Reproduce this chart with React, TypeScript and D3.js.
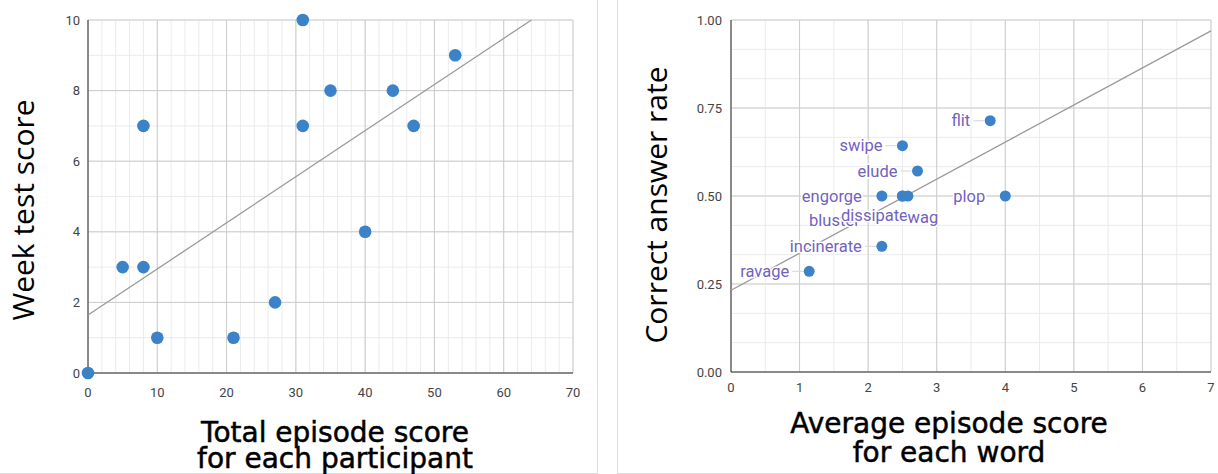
import React from "react";
import * as d3 from "d3";

// ---------- Data: left chart ----------
const episodeTotals = [0, 5, 8, 8, 10, 21, 27, 31, 31, 35, 40, 44, 47, 53];
const weekScores = [0, 3, 3, 7, 1, 1, 2, 10, 7, 8, 4, 8, 7, 9];
const leftXTicks = [0, 10, 20, 30, 40, 50, 60, 70];
const leftYTicks = [0, 2, 4, 6, 8, 10];

// ---------- Data: right chart ----------
const words = ["flit", "swipe", "elude", "engorge", "bluster", "dissipate", "wag", "plop", "incinerate", "ravage"];
const avgEpisode = [3.78, 2.5, 2.72, 2.2, 2.5, 2.5, 2.58, 4.0, 2.2, 1.14];
const correctRate = [0.714, 0.643, 0.571, 0.5, 0.5, 0.5, 0.5, 0.5, 0.357, 0.286];
const rightXTicks = [0, 1, 2, 3, 4, 5, 6, 7];
const rightYTicks = [0, 0.25, 0.5, 0.75, 1.0];

// label placement (style): default = left of point with leader; listed ones are offset
const labelPlacement: Record<string, { dx: number; dy: number }> = {
  bluster: { dx: -68, dy: 24 },
  dissipate: { dx: -28, dy: 19 },
  wag: { dx: 15, dy: 21 },
};

function regress(xs: number[], ys: number[]) {
  const mx = d3.mean(xs)!;
  const my = d3.mean(ys)!;
  let sxy = 0, sxx = 0;
  xs.forEach((x, i) => {
    sxy += (x - mx) * (ys[i] - my);
    sxx += (x - mx) * (x - mx);
  });
  const slope = sxy / sxx;
  return { slope, intercept: my - slope * mx };
}

const POINT = "#3b82c9";
const LABEL = "#7262bd";
const MAJOR = "#cccccc";
const MINOR = "#ebebeb";
const AXIS = "#333333";
const TICK = "#444444";
const TREND = "#9a9a9a";
const XTITLE_FONT = "'DejaVu Sans', sans-serif";
const YTITLE_FONT = "'Open Sans', sans-serif";
const TICK_FONT = "Roboto, sans-serif";

function XTitle({ x, y, text }: { x: number; y: number; text: string }) {
  return (
    <text x={x} y={y} textAnchor="middle" fontFamily={XTITLE_FONT} fontSize={28} fill="#000" stroke="#000" strokeWidth={0.5}>
      {text}
    </text>
  );
}

function LeftChart() {
  const x = d3.scaleLinear().domain([0, 70]).range([88, 573]);
  const y = d3.scaleLinear().domain([0, 10]).range([373, 20]);
  const minorX = d3.range(0, 70.001, 2);
  const minorY = d3.range(0, 10.001, 1);
  const { slope, intercept } = regress(episodeTotals, weekScores);
  const xEnd = Math.min(70, (10 - intercept) / slope);
  const line = d3.line<number>().x((d) => x(d)).y((d) => y(intercept + slope * d));
  return (
    <g>
      {minorX.map((v) => (
        <line key={"mx" + v} x1={x(v)} x2={x(v)} y1={y(0)} y2={y(10)} stroke={MINOR} strokeWidth={1} />
      ))}
      {minorY.map((v) => (
        <line key={"my" + v} x1={x(0)} x2={x(70)} y1={y(v)} y2={y(v)} stroke={MINOR} strokeWidth={1} />
      ))}
      {leftXTicks.map((v) => (
        <line key={"gx" + v} x1={x(v)} x2={x(v)} y1={y(0)} y2={y(10)} stroke={MAJOR} strokeWidth={1} />
      ))}
      {leftYTicks.map((v) => (
        <line key={"gy" + v} x1={x(0)} x2={x(70)} y1={y(v)} y2={y(v)} stroke={MAJOR} strokeWidth={1} />
      ))}
      <line x1={x(0)} x2={x(0)} y1={y(0)} y2={y(10)} stroke={AXIS} strokeWidth={1} />
      <line x1={x(0)} x2={x(70)} y1={y(0)} y2={y(0)} stroke={AXIS} strokeWidth={1} />
      <path d={line([0, xEnd]) || ""} stroke={TREND} strokeWidth={1.3} fill="none" />
      {episodeTotals.map((v, i) => (
        <circle key={"p" + i} cx={x(v)} cy={y(weekScores[i])} r={6.3} fill={POINT} />
      ))}
      {leftXTicks.map((v) => (
        <text key={"tx" + v} x={x(v)} y={y(0) + 24} textAnchor="middle" fontFamily={TICK_FONT} fontSize={13} fill={TICK}>
          {v}
        </text>
      ))}
      {leftYTicks.map((v) => (
        <text key={"ty" + v} x={x(0) - 8} y={y(v)} dy="0.35em" textAnchor="end" fontFamily={TICK_FONT} fontSize={13} fill={TICK}>
          {v}
        </text>
      ))}
      <text transform="translate(34,210) rotate(-90)" textAnchor="middle" fontFamily={YTITLE_FONT} fontSize={30} fill="#000">
        Week test score
      </text>
      <XTitle x={335} y={442} text="Total episode score" />
      <XTitle x={335} y={468} text="for each participant" />
    </g>
  );
}

function RightChart() {
  const x = d3.scaleLinear().domain([0, 7]).range([731, 1211]);
  const y = d3.scaleLinear().domain([0, 1]).range([372, 20]);
  const minorX = d3.range(0, 7.001, 0.5);
  const minorY = d3.range(0, 12.001, 1).map((k) => k / 12);
  const { slope, intercept } = regress(avgEpisode, correctRate);
  const line = d3.line<number>().x((d) => x(d)).y((d) => y(intercept + slope * d));
  return (
    <g>
      {minorX.map((v) => (
        <line key={"mx" + v} x1={x(v)} x2={x(v)} y1={y(0)} y2={y(1)} stroke={MINOR} strokeWidth={1} />
      ))}
      {minorY.map((v) => (
        <line key={"my" + v} x1={x(0)} x2={x(7)} y1={y(v)} y2={y(v)} stroke={MINOR} strokeWidth={1} />
      ))}
      {rightXTicks.map((v) => (
        <line key={"gx" + v} x1={x(v)} x2={x(v)} y1={y(0)} y2={y(1)} stroke={MAJOR} strokeWidth={1} />
      ))}
      {rightYTicks.map((v) => (
        <line key={"gy" + v} x1={x(0)} x2={x(7)} y1={y(v)} y2={y(v)} stroke={MAJOR} strokeWidth={1} />
      ))}
      <line x1={x(0)} x2={x(0)} y1={y(0)} y2={y(1)} stroke={AXIS} strokeWidth={1} />
      <line x1={x(0)} x2={x(7)} y1={y(0)} y2={y(0)} stroke={AXIS} strokeWidth={1} />
      <path d={line([0, 7]) || ""} stroke={TREND} strokeWidth={1.3} fill="none" />
      {words.map((w, i) => {
        if (labelPlacement[w]) return null;
        const px = x(avgEpisode[i]);
        const py = y(correctRate[i]);
        return <line key={"ld" + w} x1={px - 17} x2={px - 6} y1={py} y2={py} stroke="#dcdcdc" strokeWidth={1.2} />;
      })}
      {words.map((w, i) => (
        <circle key={"p" + w} cx={x(avgEpisode[i])} cy={y(correctRate[i])} r={5.5} fill={POINT} />
      ))}
      {words.map((w, i) => {
        const px = x(avgEpisode[i]);
        const py = y(correctRate[i]);
        const p = labelPlacement[w];
        const tx = p ? px + p.dx : px - 20;
        const ty = p ? py + p.dy : py;
        return (
          <text
            key={"l" + w}
            x={tx}
            y={ty}
            dy="0.35em"
            textAnchor={p ? "middle" : "end"}
            fontFamily={TICK_FONT}
            fontSize={16.5}
            fill={LABEL}
            stroke="#fff"
            strokeWidth={3}
            strokeLinejoin="round"
            style={{ paintOrder: "stroke" }}
          >
            {w}
          </text>
        );
      })}
      {rightXTicks.map((v) => (
        <text key={"tx" + v} x={x(v)} y={y(0) + 20} textAnchor="middle" fontFamily={TICK_FONT} fontSize={13} fill={TICK}>
          {v}
        </text>
      ))}
      {rightYTicks.map((v) => (
        <text key={"ty" + v} x={x(0) - 9} y={y(v)} dy="0.35em" textAnchor="end" fontFamily={TICK_FONT} fontSize={13} fill={TICK}>
          {d3.format(".2f")(v)}
        </text>
      ))}
      <text transform="translate(667,205) rotate(-90)" textAnchor="middle" fontFamily={YTITLE_FONT} fontSize={30} fill="#000">
        Correct answer rate
      </text>
      <XTitle x={949} y={433} text="Average episode score" />
      <XTitle x={949} y={462} text="for each word" />
    </g>
  );
}

export default function App() {
  return (
    <svg
      width={1218}
      height={474}
      style={{ position: "absolute", left: 0, top: 0, background: "#fff" }}
    >
      <rect x={0} y={0} width={1218} height={474} fill="#fff" />
      <line x1={597.5} x2={597.5} y1={0} y2={474} stroke="#dddddd" />
      <line x1={0} x2={597.5} y1={473.5} y2={473.5} stroke="#dddddd" />
      <line x1={617.5} x2={617.5} y1={0} y2={474} stroke="#dddddd" />
      <line x1={617.5} x2={1218} y1={473.5} y2={473.5} stroke="#dddddd" />
      <LeftChart />
      <RightChart />
    </svg>
  );
}
